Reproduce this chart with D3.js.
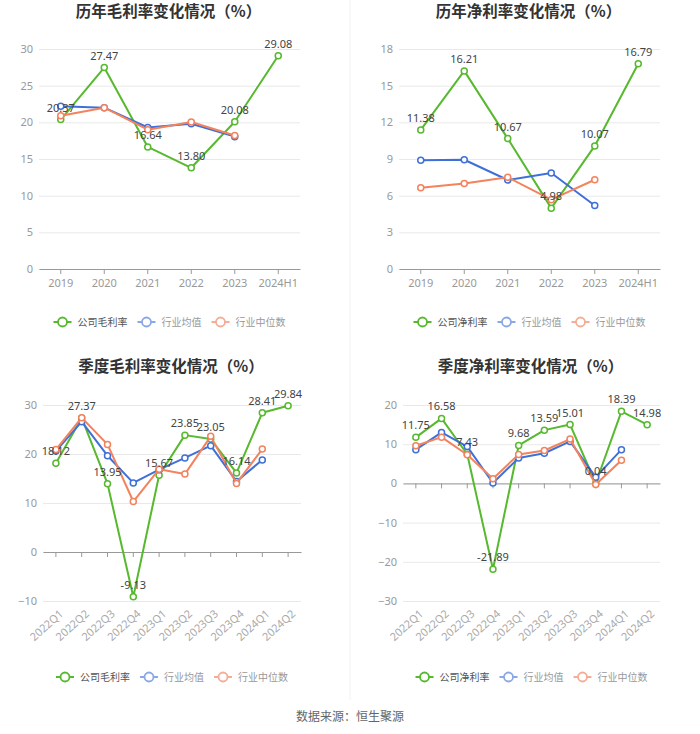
<!DOCTYPE html>
<html><head><meta charset="utf-8">
<script src="https://cdn.jsdelivr.net/npm/d3@7"></script>
<style>body{margin:0;background:#fff}svg{font-family:"Noto Sans CJK SC","Noto Sans",sans-serif;display:block}</style>
</head><body><svg id="c" width="700" height="734"></svg>
<script>
// ---- data ----
const years = ["2019","2020","2021","2022","2023","2024H1"];
const quarters = ["2022Q1","2022Q2","2022Q3","2022Q4","2023Q1","2023Q2","2023Q3","2023Q4","2024Q1","2024Q2"];

const grossYearCompany = [20.37,27.47,16.64,13.80,20.08,29.08];
const grossYearAvg     = [22.2,22.0,19.3,19.8,18.05];
const grossYearMedian  = [20.9,22.0,19.0,20.05,18.2];

const netYearCompany = [11.38,16.21,10.67,4.98,10.07,16.79];
const netYearAvg     = [8.89,8.94,7.28,7.85,5.2];
const netYearMedian  = [6.65,7.0,7.5,5.67,7.3];

const grossQCompany = [18.12,27.37,13.95,-9.13,15.67,23.85,23.05,16.14,28.41,29.84];
const grossQAvg     = [20.6,26.6,19.65,14.1,16.8,19.2,21.7,14.4,18.8];
const grossQMedian  = [20.9,27.4,21.96,10.3,16.9,15.9,23.6,14.0,21.0];

const netQCompany = [11.75,16.58,7.43,-21.89,9.68,13.59,15.01,0.04,18.39,14.98];
const netQAvg     = [8.6,13.0,9.4,0.1,6.5,7.7,10.7,1.6,8.6];
const netQMedian  = [9.6,11.8,7.3,1.2,7.4,8.4,11.3,-0.3,5.9];

const yTicksGrossYear = [0,5,10,15,20,25,30];
const yTicksNetYear   = [0,3,6,9,12,15,18];
const yTicksGrossQ    = [-10,0,10,20,30];
const yTicksNetQ      = [-30,-20,-10,0,10,20];

const titles = ["历年毛利率变化情况（%）","历年净利率变化情况（%）","季度毛利率变化情况（%）","季度净利率变化情况（%）"];
const legendGross = ["公司毛利率","行业均值","行业中位数"];
const legendNet   = ["公司净利率","行业均值","行业中位数"];
const source = "数据来源：恒生聚源";

// ---- styles ----
const colors = ["#56b92e","#3f70d9","#f3825d"];
const legendIcon = ["#56b92e","#8aa8e6","#f4ad96"];
const legendText = ["#555","#999","#999"];

const svg = d3.select("#c");

// faint panel divider
svg.append("line").attr("x1",350).attr("x2",350).attr("y1",0).attr("y2",700)
  .attr("stroke","#f2f2f2").attr("stroke-width",1);

function panel(cfg){
  const g = svg.append("g");
  const x = d3.scaleBand().domain(cfg.cats).range([cfg.x0,cfg.x1]);
  const y = d3.scaleLinear().domain(cfg.domain).range([cfg.yb,cfg.yt]);
  const cx = d => x(d)+x.bandwidth()/2;

  // title
  g.append("text").attr("x",(cfg.x0+cfg.x1)/2-1).attr("y",cfg.titleY)
    .attr("text-anchor","middle").attr("font-size",15.5).attr("font-weight","bold")
    .attr("fill","#333").text(cfg.title);

  // grid
  const yAxis = d3.axisLeft(y).tickValues(cfg.ticks).tickSize(-(cfg.x1-cfg.x0)).tickPadding(6);
  const ga = g.append("g").attr("transform",`translate(${cfg.x0},0)`).call(yAxis);
  ga.select(".domain").remove();
  ga.selectAll(".tick line").attr("stroke","#e9e9e9");
  ga.selectAll(".tick text").attr("fill","#999").attr("font-size",11)
    .attr("font-family","'Noto Sans',sans-serif");

  // x axis at zero
  const xAxis = d3.axisBottom(x).tickSize(5).tickSizeOuter(0);
  const gx = g.append("g").attr("transform",`translate(0,${y(0)})`).call(xAxis);
  gx.select(".domain").attr("stroke","#999");
  gx.selectAll(".tick line").attr("stroke","#999");
  gx.selectAll(".tick text").remove();

  // x labels at bottom
  const lab = g.append("g");
  cfg.cats.forEach(c=>{
    if(cfg.rotate){
      lab.append("text").attr("transform",`translate(${cx(c)+3},${cfg.yb+8}) rotate(-42)`)
        .attr("text-anchor","end").attr("dy","0.7em").attr("font-size",11).attr("fill","#aaa")
        .attr("font-family","'Noto Sans',sans-serif").text(c);
    } else {
      lab.append("text").attr("x",cx(c)).attr("y",cfg.yb+18).attr("text-anchor","middle")
        .attr("font-size",11).attr("fill","#999").attr("font-family","'Noto Sans',sans-serif").text(c);
    }
  });

  // series
  const series = [cfg.company,cfg.avg,cfg.median];
  const line = d3.line().x((d,i)=>cx(cfg.cats[i])).y(d=>y(d));
  series.forEach((s,k)=>{
    g.append("path").datum(s).attr("d",line).attr("fill","none")
      .attr("stroke",colors[k]).attr("stroke-width",2).attr("stroke-linejoin","round");
    g.selectAll(null).data(s).enter().append("circle")
      .attr("cx",(d,i)=>cx(cfg.cats[i])).attr("cy",d=>y(d)).attr("r",3)
      .attr("fill","#fff").attr("stroke",colors[k]).attr("stroke-width",1.5);
  });
  // labels for company series
  g.selectAll(null).data(cfg.company).enter().append("text")
    .attr("x",(d,i)=>cx(cfg.cats[i])).attr("y",d=>y(d)-8)
    .attr("text-anchor","middle").attr("font-size",11).attr("fill","#444")
    .attr("font-family","'Noto Sans',sans-serif")
    .text(d=>d.toFixed(2));

  // legend
  const lg = g.append("g");
  const fs = 10;
  const items = cfg.legend.map((t,i)=>({t,i,w:20+4+t.length*fs}));
  const gap = 10;
  const total = d3.sum(items,d=>d.w)+gap*(items.length-1);
  let lx = (cfg.x0+cfg.x1)/2 - total/2;
  items.forEach(it=>{
    const ly = cfg.legendY;
    lg.append("line").attr("x1",lx).attr("x2",lx+18).attr("y1",ly).attr("y2",ly)
      .attr("stroke",legendIcon[it.i]).attr("stroke-width",2);
    lg.append("circle").attr("cx",lx+9).attr("cy",ly).attr("r",4.5)
      .attr("fill","#fff").attr("stroke",legendIcon[it.i]).attr("stroke-width",1.8);
    lg.append("text").attr("x",lx+24).attr("y",ly).attr("dy","0.35em")
      .attr("font-size",fs).attr("fill",legendText[it.i]).text(it.t);
    lx += it.w+gap;
  });
}

panel({cats:years,domain:[0,30],ticks:yTicksGrossYear,x0:39,x1:300,yt:49,yb:269,
  company:grossYearCompany,avg:grossYearAvg,median:grossYearMedian,title:titles[0],titleY:17,
  legend:legendGross,legendY:322,rotate:false});
panel({cats:years,domain:[0,18],ticks:yTicksNetYear,x0:399,x1:660,yt:49,yb:269,
  company:netYearCompany,avg:netYearAvg,median:netYearMedian,title:titles[1],titleY:17,
  legend:legendNet,legendY:322,rotate:false});
panel({cats:quarters,domain:[-10,30],ticks:yTicksGrossQ,x0:43,x1:301,yt:405,yb:601,
  company:grossQCompany,avg:grossQAvg,median:grossQMedian,title:titles[2],titleY:372,
  legend:legendGross,legendY:677,rotate:true});
panel({cats:quarters,domain:[-30,20],ticks:yTicksNetQ,x0:403,x1:660,yt:405,yb:601,
  company:netQCompany,avg:netQAvg,median:netQMedian,title:titles[3],titleY:372,
  legend:legendNet,legendY:677,rotate:true});

svg.append("text").attr("x",350).attr("y",721).attr("text-anchor","middle")
  .attr("font-size",12).attr("fill","#666").text(source);
</script></body></html>
